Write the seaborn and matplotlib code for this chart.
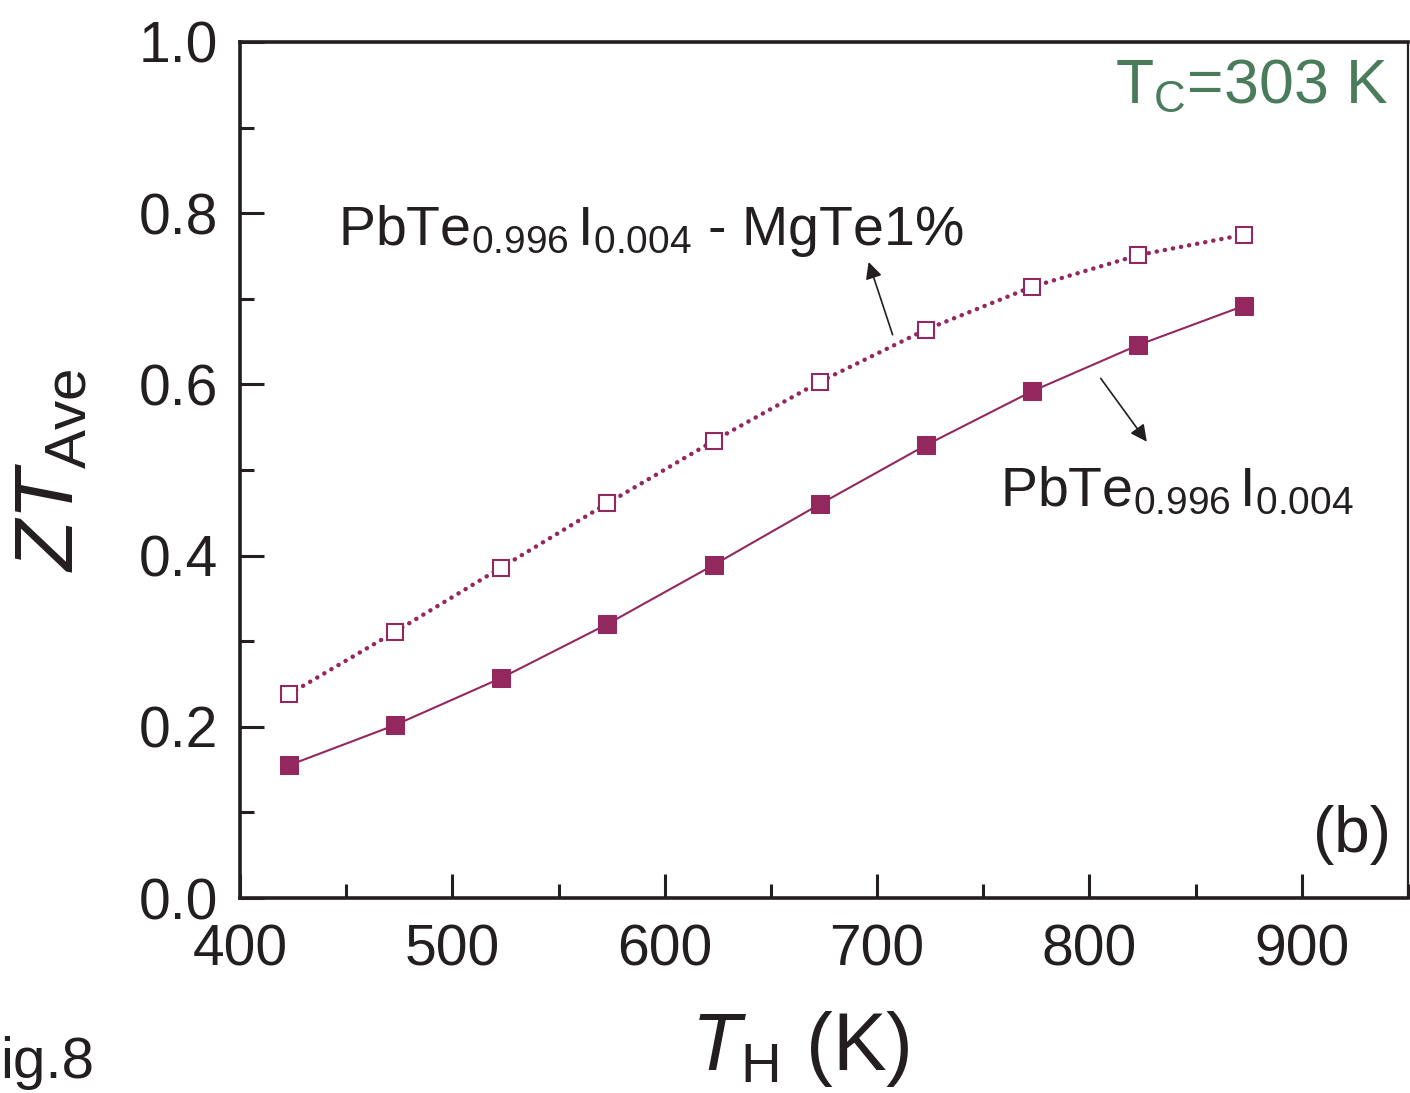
import matplotlib
matplotlib.use("Agg")
import matplotlib.pyplot as plt
import seaborn as sns
import numpy as np
from matplotlib.ticker import MultipleLocator

# Data
th = [423, 473, 523, 573, 623, 673, 723, 773, 823, 873]
zt_pbtei = [0.155, 0.202, 0.257, 0.320, 0.389, 0.460, 0.529, 0.592, 0.646, 0.692]
zt_mgte = [0.238, 0.311, 0.386, 0.461, 0.534, 0.603, 0.664, 0.714, 0.751, 0.775]

sns.set_style("white")
plt.rcParams['font.family'] = ['Liberation Sans', 'DejaVu Sans']
plt.rcParams['mathtext.fontset'] = 'custom'
plt.rcParams['mathtext.rm'] = 'Liberation Sans'
plt.rcParams['mathtext.it'] = 'Liberation Sans:italic'
plt.rcParams['mathtext.bf'] = 'Liberation Sans:bold'

color = '#93285E'
ink = '#231f20'
fig = plt.figure(figsize=(14.10, 10.93), dpi=100)
ax = fig.add_axes([0.1702, 0.1784, 0.8284, 0.7832])

sns.lineplot(x=th, y=zt_pbtei, ax=ax, color=color, lw=1.5, marker='s',
             markersize=12.5, markeredgecolor=color, markerfacecolor=color)
sns.lineplot(x=th, y=zt_mgte, ax=ax, color=color, lw=3.2, marker='s',
             markersize=12, markeredgecolor=color, markerfacecolor='white',
             markeredgewidth=1.5, linestyle=(0, (0.05, 1.8)))
for l in ax.lines:
    l.set_dash_capstyle('round')

ax.set_xlim(400, 950)
ax.set_ylim(0, 1.0)
ax.xaxis.set_minor_locator(MultipleLocator(50))
ax.yaxis.set_minor_locator(MultipleLocator(0.1))
ax.set_xticks([400, 500, 600, 700, 800, 900])
ax.set_xticklabels(['400', '500', '600', '700', '800', '900'])
ax.set_yticks([0.0, 0.2, 0.4, 0.6, 0.8, 1.0])
ax.set_yticklabels(['0.0', '0.2', '0.4', '0.6', '0.8', '1.0'])
ax.tick_params(axis='both', which='major', direction='in', length=17, width=2.2,
               labelsize=41, color=ink, labelcolor=ink,
               top=False, right=False, bottom=True, left=True)
ax.tick_params(axis='both', which='minor', direction='in', length=10, width=2.2,
               color=ink, top=False, right=False, bottom=True, left=True)
ax.tick_params(axis='x', which='major', pad=18)
ax.tick_params(axis='y', which='major', pad=16)

for side in ['left', 'bottom', 'top']:
    ax.spines[side].set_linewidth(2.6)
    ax.spines[side].set_color(ink)
ax.spines['right'].set_linewidth(1.6)
ax.spines['right'].set_color(ink)

ax.set_xlabel(r'$\mathit{T}_{\mathrm{H}}$ (K)', fontsize=58, color=ink)
ax.set_ylabel(r'$\mathit{ZT}_{\mathrm{Ave}}$', fontsize=60, color=ink)
ax.xaxis.set_label_coords(0.48, -0.13)
ax.yaxis.set_label_coords(-0.128, 0.5)

ax.text(446, 0.763, r'$\mathrm{PbTe}_{0.996}\,\mathrm{I}_{0.004}$ - MgTe1%',
        fontsize=40, color=ink, ha='left', va='baseline')
ax.text(758, 0.457, r'$\mathrm{PbTe}_{0.996}\,\mathrm{I}_{0.004}$',
        fontsize=40, color=ink, ha='left', va='baseline')
ax.text(940.5, 0.929, r'$\mathrm{T}_{\mathrm{C}}$=303 K', fontsize=45,
        color='#4A7C5C', ha='right', va='baseline')
ax.text(942, 0.054, '(b)', fontsize=46, color=ink, ha='right', va='baseline')

ax.annotate('', xy=(696, 0.743), xytext=(707.3, 0.658),
            arrowprops=dict(arrowstyle='-|>', color=ink, lw=1.2,
                            mutation_scale=25, shrinkA=0, shrinkB=0))
ax.annotate('', xy=(827, 0.533), xytext=(805.3, 0.607),
            arrowprops=dict(arrowstyle='-|>', color=ink, lw=1.2,
                            mutation_scale=25, shrinkA=0, shrinkB=0))

fig.text(0.0, 0.014, 'ig.8', fontsize=42, color=ink, ha='left', va='baseline')

fig.savefig('out.png', dpi=100)
